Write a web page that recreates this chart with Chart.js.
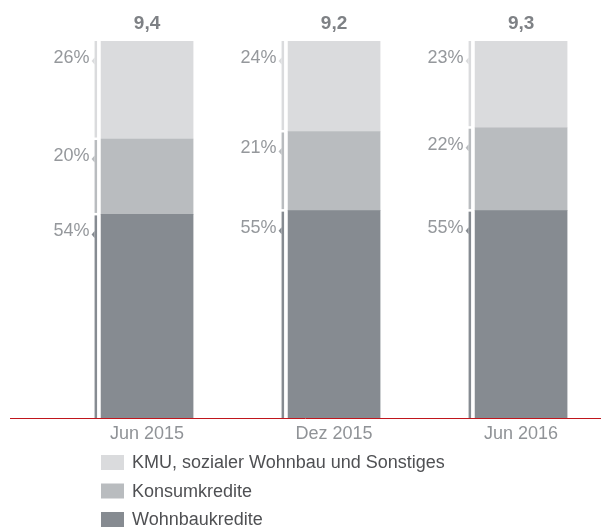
<!DOCTYPE html>
<html>
<head>
<meta charset="utf-8">
<script src="https://cdn.jsdelivr.net/npm/chart.js@4.4.0/dist/chart.umd.min.js"></script>
<style>
  html, body { margin: 0; padding: 0; background: #fff; overflow: hidden; }
  #wrap { width: 601px; height: 528px; }
</style>
</head>
<body>
<div id="wrap"><canvas id="kredite" width="601" height="528"></canvas></div>
<script>
const categories = ['Jun 2015', 'Dez 2015', 'Jun 2016'];
const totals = [9.4, 9.2, 9.3];
const wohnbau = [54, 55, 55];
const konsum = [20, 21, 22];
const kmu = [26, 24, 23];
const seriesLabels = ['Wohnbaukredite', 'Konsumkredite', 'KMU, sozialer Wohnbau und Sonstiges'];
const colors = ['#868b91', '#b9bcbf', '#dadbdd'];

const FONT = '"Liberation Sans", Arial, sans-serif';

function toPoints(arr) {
    return arr.map((v, i) => ({ x: i, y: v }));
}

// brackets, % labels, totals, red baseline and legend
const decoPlugin = {
    id: 'deco',
    afterDatasetsDraw(chart) {
        const ctx = chart.ctx;
        const yScale = chart.scales.y;
        ctx.save();

        // red baseline
        const base = Math.round(yScale.getPixelForValue(0)) + 0.5;
        ctx.strokeStyle = '#c0161d';
        ctx.lineWidth = 1;
        ctx.beginPath();
        ctx.moveTo(10, base);
        ctx.lineTo(chart.width, base);
        ctx.stroke();

        chart.data.datasets.forEach((ds, di) => {
            const meta = chart.getDatasetMeta(di);
            meta.data.forEach((bar, i) => {
                const p = bar.getProps(['x', 'y', 'base', 'width'], true);
                const left = p.x - p.width / 2;
                const top = Math.min(p.y, p.base);
                const bottom = Math.max(p.y, p.base);
                const bx = left - 6.5;
                const t = top > yScale.top + 0.5 ? top + 1 : top;
                const b = bottom < yScale.bottom - 0.5 ? bottom - 1.5 : bottom;
                ctx.fillStyle = ds.backgroundColor;
                ctx.fillRect(bx, t, 2.5, b - t);
                // little pointer
                const py = top + 20;
                ctx.beginPath();
                ctx.moveTo(bx, py - 3.5);
                ctx.lineTo(bx - 3, py);
                ctx.lineTo(bx, py + 3.5);
                ctx.closePath();
                ctx.fill();
                // percentage
                ctx.fillStyle = '#95989c';
                ctx.font = '18px ' + FONT;
                ctx.textAlign = 'right';
                ctx.textBaseline = 'alphabetic';
                ctx.fillText(ds.data[i].y + '%', bx - 5, top + 22);
            });
        });

        // totals above the bars
        const topMeta = chart.getDatasetMeta(chart.data.datasets.length - 1);
        ctx.fillStyle = '#7e8185';
        ctx.font = 'bold 19px ' + FONT;
        ctx.textAlign = 'center';
        ctx.textBaseline = 'alphabetic';
        topMeta.data.forEach((bar, i) => {
            ctx.fillText(totals[i].toFixed(1).replace('.', ','), bar.x, 29);
        });

        // legend, top item = top segment
        ctx.font = '18px ' + FONT;
        ctx.textAlign = 'left';
        ctx.textBaseline = 'middle';
        const n = chart.data.datasets.length;
        for (let k = 0; k < n; k++) {
            const ds = chart.data.datasets[n - 1 - k];
            const y = 455 + k * 28.5;
            ctx.fillStyle = ds.backgroundColor;
            ctx.fillRect(101, y, 23, 15);
            ctx.fillStyle = '#4f5053';
            ctx.fillText(ds.label, 132, y + 8.5);
        }
        ctx.restore();
    }
};

const ctxK = document.getElementById('kredite').getContext('2d');

const kreditChart = new Chart(ctxK, {
    type: 'bar',
    plugins: [decoPlugin],
    data: {
        datasets: [
            { label: seriesLabels[0], data: toPoints(wohnbau), backgroundColor: colors[0] },
            { label: seriesLabels[1], data: toPoints(konsum), backgroundColor: colors[1] },
            { label: seriesLabels[2], data: toPoints(kmu), backgroundColor: colors[2] }
        ]
    },
    options: {
        responsive: false,
        animation: false,
        devicePixelRatio: 1,
        barThickness: 92,
        layout: { padding: { top: 41, left: 10, right: 1, bottom: 0 } },
        plugins: {
            legend: { display: false },
            tooltip: { enabled: false }
        },
        scales: {
            x: {
                type: 'linear',
                min: -0.733,
                max: 2.422,
                offset: false,
                stacked: true,
                grid: { display: false, drawTicks: false, offset: false },
                border: { display: false },
                afterFit: (s) => { s.height = 110; },
                ticks: {
                    stepSize: 1,
                    includeBounds: false,
                    autoSkip: false,
                    maxRotation: 0,
                    padding: 5,
                    color: '#909397',
                    font: { family: FONT, size: 18 },
                    callback: (v) => categories[v] ?? ''
                }
            },
            y: {
                stacked: true,
                display: false,
                min: 0,
                max: 100
            }
        }
    }
});
</script>
</body>
</html>
